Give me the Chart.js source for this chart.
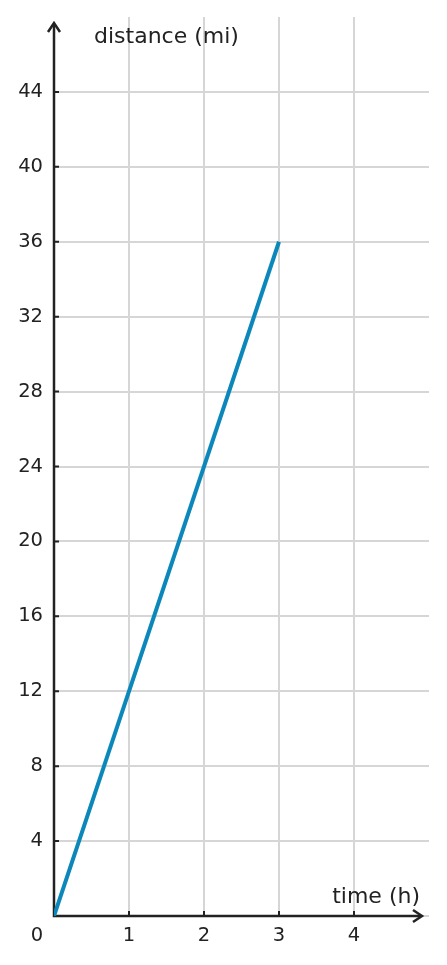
<!DOCTYPE html>
<html>
<head>
<meta charset="utf-8">
<script src="https://cdn.jsdelivr.net/npm/chart.js@4.4.0/dist/chart.umd.min.js"></script>
<style>
  html, body { margin: 0; padding: 0; background: #fff; }
  #wrap { width: 447px; height: 965px; }
</style>
</head>
<body>
<div id="wrap"><canvas id="chart" width="447" height="965"></canvas></div>
<script>
// Data
const times = [0, 3];          // h
const distances = [0, 36];     // mi
const xTicks = [1, 2, 3, 4];
const yTicks = [4, 8, 12, 16, 20, 24, 28, 32, 36, 40, 44];
const xTitle = "time (h)";
const yTitle = "distance (mi)";

const ink = "#222222";
const gridColor = "#d6d6d6";
const lineColor = "#0b87ba";
const font = "DejaVu Sans";

// Axes, arrows, tick marks and labels drawn from the scales
const axesPlugin = {
  id: "axes",
  beforeDatasetsDraw(chart) {
    const ctx = chart.ctx;
    const x = chart.scales.x, y = chart.scales.y;
    const x0 = x.getPixelForValue(0), y0 = y.getPixelForValue(0);
    const xEnd = 422, yEnd = 23;
    ctx.save();
    ctx.strokeStyle = ink;
    ctx.lineWidth = 2.5;
    ctx.lineCap = "butt";
    ctx.beginPath();
    ctx.moveTo(x0, y0);
    ctx.lineTo(x0, yEnd + 1);
    ctx.moveTo(x0 - 1.25, y0);
    ctx.lineTo(xEnd - 1, y0);
    ctx.stroke();
    // arrow heads
    ctx.lineJoin = "miter";
    ctx.beginPath();
    ctx.moveTo(x0 - 6, yEnd + 9);
    ctx.lineTo(x0, yEnd);
    ctx.lineTo(x0 + 6, yEnd + 9);
    ctx.moveTo(xEnd - 9, y0 - 6);
    ctx.lineTo(xEnd, y0);
    ctx.lineTo(xEnd - 9, y0 + 6);
    ctx.stroke();
    // tick marks
    ctx.lineWidth = 2;
    ctx.beginPath();
    yTicks.forEach(v => {
      const py = y.getPixelForValue(v);
      ctx.moveTo(x0, py);
      ctx.lineTo(x0 + 5, py);
    });
    xTicks.forEach(v => {
      const px = x.getPixelForValue(v);
      ctx.moveTo(px, y0);
      ctx.lineTo(px, y0 - 5);
    });
    ctx.stroke();
    // tick labels
    ctx.fillStyle = ink;
    ctx.font = "19.5px '" + font + "'";
    ctx.textAlign = "right";
    ctx.textBaseline = "middle";
    yTicks.forEach(v => ctx.fillText(String(v), x0 - 11, y.getPixelForValue(v)));
    ctx.textAlign = "center";
    xTicks.forEach(v => ctx.fillText(String(v), x.getPixelForValue(v), y0 + 20));
    ctx.fillText("0", x0 - 17, y0 + 20);
    // axis titles
    ctx.font = "22px '" + font + "'";
    ctx.textBaseline = "alphabetic";
    ctx.textAlign = "left";
    ctx.fillText(yTitle, 94, 43);
    ctx.textAlign = "right";
    ctx.fillText(xTitle, 420, 903);
    ctx.restore();
  }
};

new Chart(document.getElementById("chart"), {
  type: "scatter",
  data: {
    datasets: [{
      data: times.map((t, i) => ({ x: t, y: distances[i] })),
      showLine: true,
      borderColor: lineColor,
      borderWidth: 4,
      pointRadius: 0,
      fill: false
    }]
  },
  options: {
    responsive: false,
    animation: false,
    layout: { padding: { left: 54, right: 18, top: 17, bottom: 49 } },
    plugins: { legend: { display: false }, tooltip: { enabled: false } },
    scales: {
      x: {
        type: "linear",
        min: 0, max: 5,
        ticks: { display: false, stepSize: 1 },
        border: { display: false },
        grid: {
          drawTicks: false,
          lineWidth: 2,
          color: c => (c.tick && (c.tick.value === 0 || c.tick.value === 5)) ? "rgba(0,0,0,0)" : gridColor
        }
      },
      y: {
        type: "linear",
        min: 0, max: 48,
        ticks: { display: false, stepSize: 4 },
        border: { display: false },
        grid: {
          drawTicks: false,
          lineWidth: 2,
          color: c => (c.tick && c.tick.value === 48) ? "rgba(0,0,0,0)" : gridColor
        }
      }
    }
  },
  plugins: [axesPlugin]
});
</script>
</body>
</html>
